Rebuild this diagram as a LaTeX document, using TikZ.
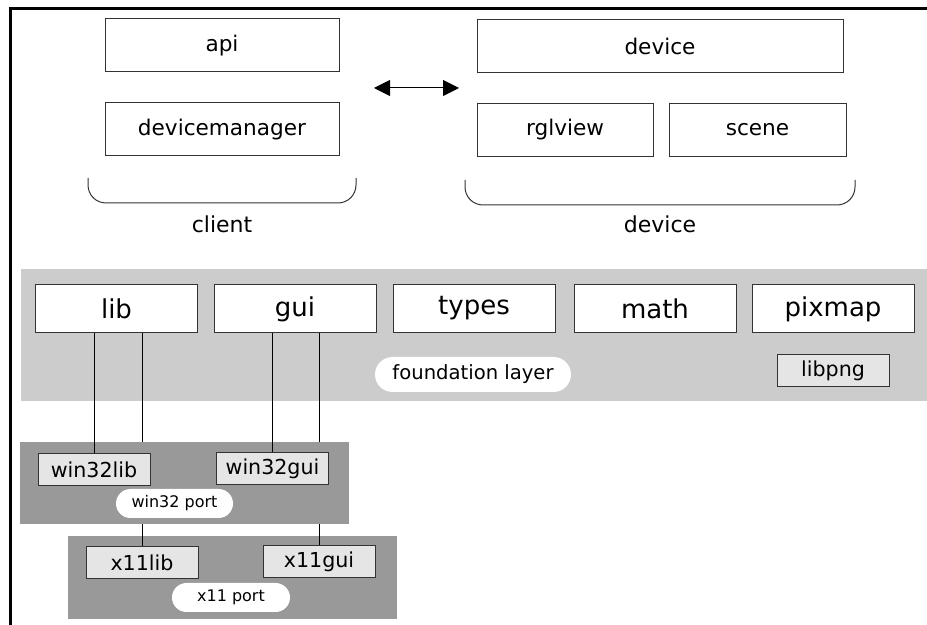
\documentclass[tikz,border=0pt]{standalone}
\usepackage{fontspec}
\setmainfont{DejaVu Sans}
\usetikzlibrary{arrows.meta}
\tikzset{
  blk/.style={draw=black!80, fill=white, line width=0.5pt, inner sep=0pt,
              minimum height=26.5pt, font=\fontsize{10.8}{13}\selectfont},
  baseblk/.style={blk, minimum height=24pt, minimum width=81pt,
                  font=\fontsize{13}{15}\selectfont},
  portblk/.style={blk, fill=black!10, minimum height=16pt, minimum width=56pt,
                  font=\fontsize{10.3}{12}\selectfont},
  layerbg/.style={fill=black!20, inner sep=0pt},
  portbg/.style={fill=black!40, inner sep=0pt, minimum width=164.5pt,
                 minimum height=41pt},
  tag/.style={fill=white, rounded corners=7.25pt, inner sep=0pt,
              minimum height=14.5pt, font=\fontsize{8}{10}\selectfont},
  grouplbl/.style={font=\fontsize{11}{13}\selectfont},
  brace/.style={draw=black!80, line width=0.5pt, rounded corners=9pt},
  link/.style={draw, line width=0.5pt},
  bothway/.style={{Triangle[length=8pt,width=8pt]}-{Triangle[length=8pt,width=8pt]},
                  line width=0.5pt},
}
\begin{document}
\begin{tikzpicture}[x=0.5pt,y=-0.5pt]
  \useasboundingbox (0,0) rectangle (927,625);
  % frame
  \draw[line width=1.5pt] (10.5,625) -- (10.5,9) -- (927,9);
  % client side
  \node[blk, minimum width=117pt] (api)    at (222,45.5)  {api};
  \node[blk, minimum width=117pt] (devmgr) at (222,129.5) {devicemanager};
  \draw[brace] (88,178) -- (88,203) -- (356,203) -- (356,178);
  \node[grouplbl] (client) at (222,224) {client};
  % device side
  \node[blk, minimum width=183pt]  (device)  at (660,46)    {device};
  \node[blk, minimum width=88pt]   (rglview) at (565,130)   {rglview};
  \node[blk, minimum width=88.5pt] (scene)   at (757.5,130) {scene};
  \draw[brace] (465,180) -- (465,205) -- (855,205) -- (855,180);
  \node[grouplbl] (devgrp) at (660,224) {device};
  % link between both sides
  \coordinate (arrL) at (374,88);
  \coordinate (arrR) at (459,88);
  \draw[bothway] (arrL) -- (arrR);
  % foundation layer
  \node[layerbg, minimum width=453pt, minimum height=66pt] (found) at (474,335) {};
  \node[baseblk] (lib)    at (116.5,309) {lib};
  \node[baseblk] (gui)    at (295,309)   {gui};
  \node[baseblk] (types)  at (474,308.5) {types};
  \node[baseblk] (math)   at (655,309)   {math};
  \node[baseblk] (pixmap) at (833,309)   {pixmap};
  \node[tag, minimum width=98pt, minimum height=17.5pt, rounded corners=8.75pt,
        font=\fontsize{9.8}{12}\selectfont] (foundtag) at (473,374.5) {foundation layer};
  \node[portblk] (libpng) at (833,370.5) {libpng};
  % x11 port
  \node[portbg, minimum height=41.5pt] (x11) at (232.5,577.5) {};
  \node[portblk] (x11lib) at (142,562.5) {x11lib};
  \node[portblk] (x11gui) at (319,562)   {x11gui};
  \node[tag, minimum width=59pt] (x11tag) at (231,597.5) {x11 port};
  \draw[link] (x11lib.north) -- (x11lib.north |- lib.south);
  \draw[link] (x11gui.north) -- (x11gui.north |- gui.south);
  % win32 port
  \node[portbg] (win32) at (184.5,483.5) {};
  \node[portblk] (win32lib) at (94,469.5)  {win32lib};
  \node[portblk] (win32gui) at (272.5,469) {win32gui};
  \node[tag, minimum width=58.5pt] (win32tag) at (174.5,503.5) {win32 port};
  \draw[link] (win32lib.north) -- (win32lib.north |- lib.south);
  \draw[link] (win32gui.north) -- (win32gui.north |- gui.south);
\end{tikzpicture}
\end{document}
